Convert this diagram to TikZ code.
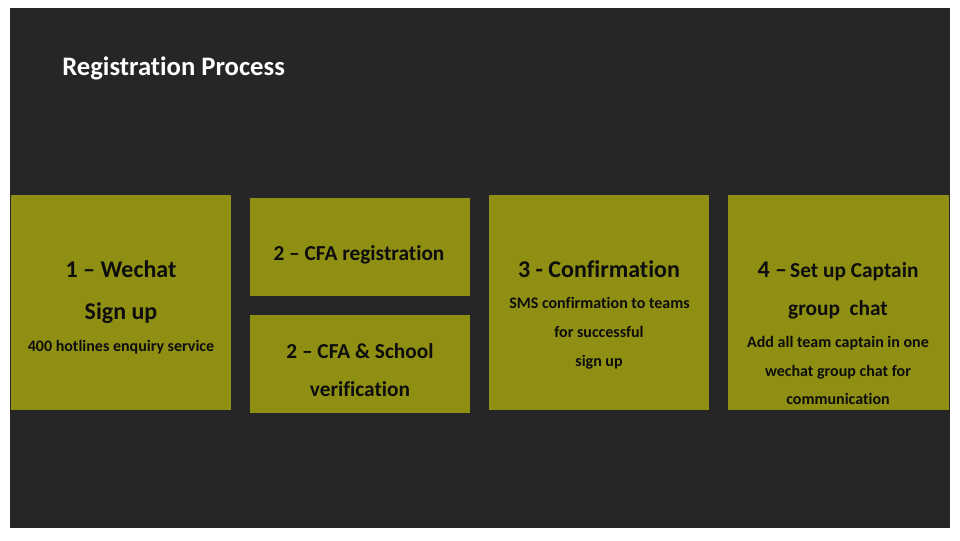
\documentclass[tikz,border=0pt]{standalone}
\usepackage{fontspec}
\setmainfont{Carlito}[Ligatures={NoCommon}]
\definecolor{bgdark}{HTML}{262626}
\definecolor{olive}{HTML}{8F8F14}
\definecolor{ink}{HTML}{0D0D0D}
\tikzset{
  box/.style={fill=olive, draw=none, inner sep=0pt},
  txt/.style={anchor=base, inner sep=0pt, text=ink, font=\bfseries},
  big/.style={txt, font=\fontsize{18}{21}\selectfont\bfseries},
  mid/.style={txt, font=\fontsize{16}{19}\selectfont\bfseries},
  small/.style={txt, font=\fontsize{12}{14}\selectfont\bfseries},
}
\begin{document}
\begin{tikzpicture}[x=0.75pt,y=-0.75pt]
\useasboundingbox (0,0) rectangle (960,540);
\fill[white] (0,0) rectangle (960,540);
\node[fill=bgdark, inner sep=0pt, minimum width=705pt, minimum height=390pt] (bg) at (480,268) {};
\node[anchor=base west, inner sep=0pt, text=white, font=\fontsize{20}{24}\selectfont\bfseries] (title) at (62,75) {Registration Process};
% boxes
\node[box, minimum width=165pt, minimum height=161.25pt] (b1) at (121,302.5) {};
\node[box, minimum width=165pt, minimum height=73.5pt] (b2a) at (360,247) {};
\node[box, minimum width=165pt, minimum height=73.5pt] (b2b) at (360,364) {};
\node[box, minimum width=165pt, minimum height=161.25pt] (b3) at (599,302.5) {};
\node[box, minimum width=165.75pt, minimum height=161.25pt] (b4) at (838.5,302.5) {};
% box 1
\node[big] (t1a) at (121,277.5) {1 – Wechat};
\node[big] (t1b) at (121,319) {Sign up};
\node[small] (t1c) at (121,351.5) {400 hotlines enquiry service};
% box 2
\node[mid] (t2a) at (359,260) {2 – CFA registration};
\node[mid] (t2b) at (360,358) {2 – CFA \& School};
\node[mid] (t2c) at (360,396) {verification};
% box 3
\node[big] (t3a) at (599,277.5) {3 - Confirmation};
\node[small] (t3b) at (599.5,308.5) {SMS confirmation to teams};
\node[small] (t3c) at (599,337.5) {for successful};
\node[small] (t3d) at (599,366.5) {sign up};
% box 4
\node[txt] (t4a) at (838,277.5) {{\fontsize{18}{21}\selectfont 4 –} {\fontsize{16}{19}\selectfont Set up Captain}};
\node[mid] (t4b) at (838,315.5) {group\ \ chat};
\node[small] (t4c) at (838,347.5) {Add all team captain in one};
\node[small] (t4d) at (838,376.5) {wechat group chat for};
\node[small] (t4e) at (838,404) {communication};
\end{tikzpicture}
\end{document}
